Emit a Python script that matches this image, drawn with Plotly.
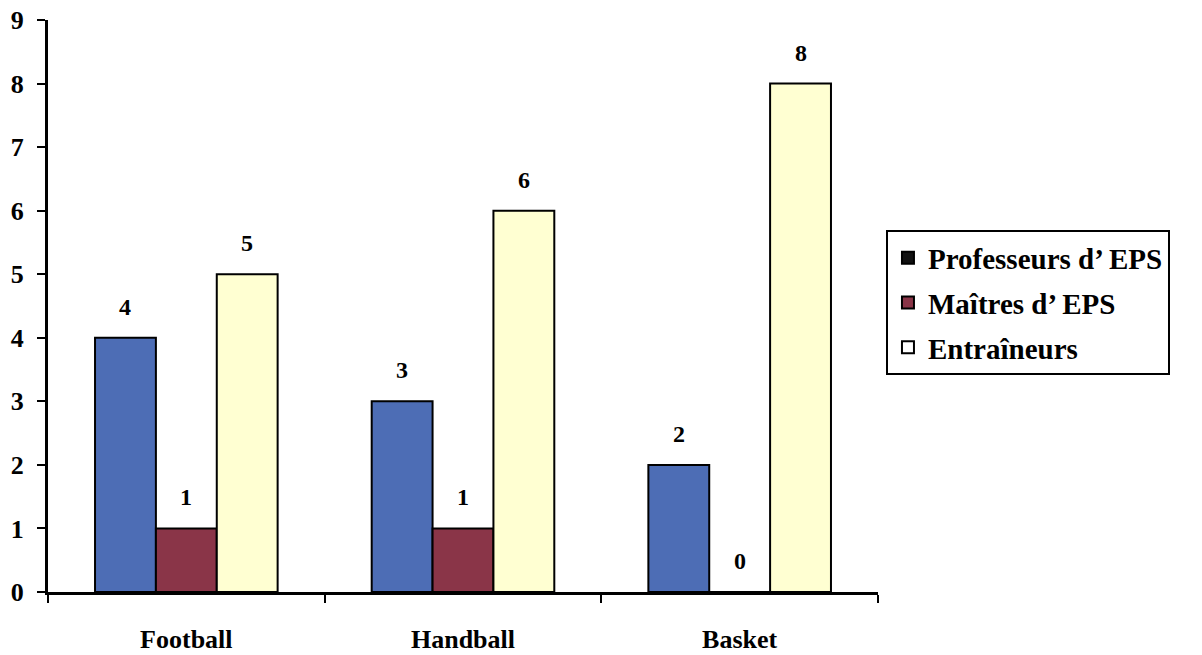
import plotly.graph_objects as go

sports = ["Football", "Handball", "Basket"]
series_names = ["Professeurs d\u2019 EPS", "Ma\u00eetres d\u2019 EPS", "Entra\u00eeneurs"]
professeurs = [4, 3, 2]
maitres = [1, 1, 0]
entraineurs = [5, 6, 8]
y_ticks = [0, 1, 2, 3, 4, 5, 6, 7, 8, 9]

bar_colors = ["#4d6db5", "#8a3548", "#ffffd2"]
legend_colors = ["#111111", "#8a3548", "#ffffff"]

FONT = "Liberation Serif"
W, H = 1202, 655
ML, MR, MT, MB = 48, 324, 20, 63
BARGAP = 0.34

fig = go.Figure()
all_series = [professeurs, maitres, entraineurs]
for i, (name, vals) in enumerate(zip(series_names, all_series)):
    fig.add_trace(go.Bar(
        x=sports, y=vals, name=name,
        marker=dict(color=bar_colors[i], line=dict(color="#000000", width=2)),
        showlegend=False,
    ))
    # legend entry
    fig.add_trace(go.Scatter(
        x=[None], y=[None], mode="markers", name=name,
        legendgroup=f"g{i}",
        marker=dict(symbol="square", size=17, color=legend_colors[i],
                    line=dict(color="#000000", width=1.5)),
    ))

# value labels above each bar
plot_w = W - ML - MR
bar_px = plot_w / len(sports) * (1 - BARGAP) / len(all_series)
for i, vals in enumerate(all_series):
    for sport, v in zip(sports, vals):
        fig.add_annotation(
            x=sport, y=v, text=f"<b>{v}</b>", showarrow=False,
            xshift=(i - 1) * bar_px, yshift=31, yanchor="middle",
            font=dict(family=FONT, size=24, color="#000000"),
        )

fig.update_layout(
    width=W, height=H,
    margin=dict(l=ML, r=MR, t=MT, b=MB, autoexpand=False),
    paper_bgcolor="white", plot_bgcolor="white",
    barmode="group", bargap=BARGAP, bargroupgap=0,
    font=dict(family=FONT, color="#000000"),
    legend=dict(
        x=1.0096, y=0.632, xanchor="left", yanchor="top",
        bordercolor="#000000", borderwidth=2, bgcolor="white",
        font=dict(family=FONT, size=29, color="#000000", weight="bold"),
        traceorder="grouped", tracegroupgap=4,
        itemsizing="constant", itemwidth=30,
    ),
    xaxis=dict(
        showline=True, linecolor="#000000", linewidth=3,
        ticks="outside", tickson="boundaries", ticklen=8, tickwidth=2, tickcolor="#000000",
        tickfont=dict(family=FONT, size=26, color="#000000", weight="bold"),
        ticklabelstandoff=22, automargin=False,
        showgrid=False, zeroline=False,
    ),
    yaxis=dict(
        range=[0, 9], tickvals=y_ticks,
        showline=True, linecolor="#000000", linewidth=3,
        ticks="outside", ticklen=8, tickwidth=2, tickcolor="#000000",
        tickfont=dict(family=FONT, size=26, color="#000000", weight="bold"),
        ticklabelstandoff=8, automargin=False,
        showgrid=False, zeroline=False,
    ),
)

fig.write_html("out.html")
